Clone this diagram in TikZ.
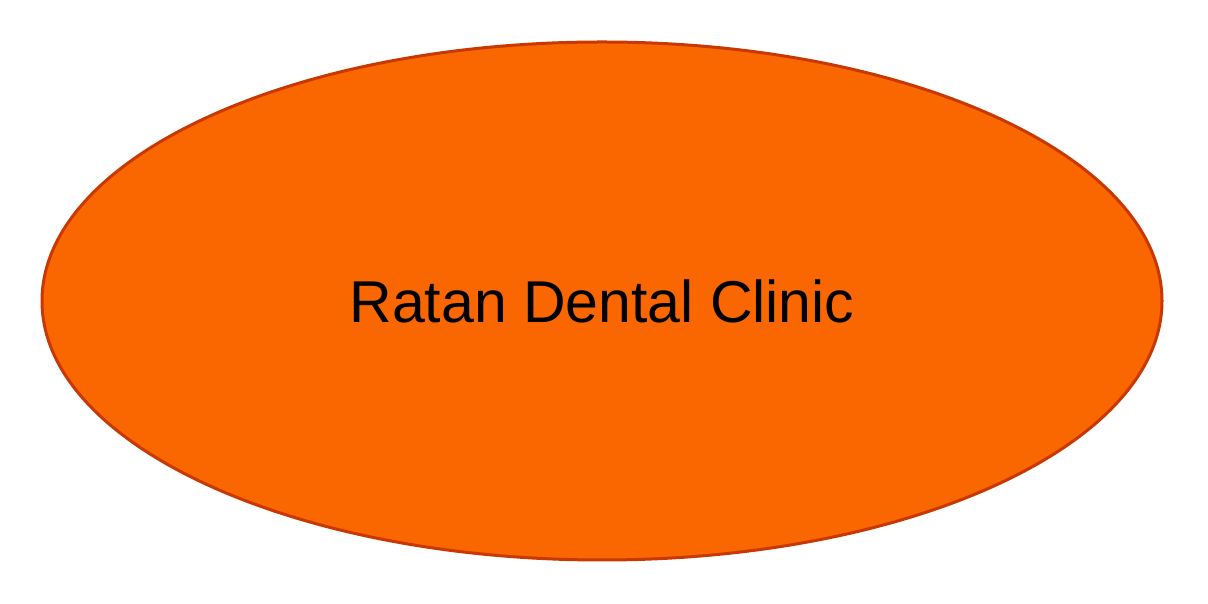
\documentclass[tikz,border=0pt]{standalone}
\usepackage{fontspec}
\setmainfont{Liberation Sans}
\usetikzlibrary{shapes.geometric}
\definecolor{fillor}{HTML}{FA6600}
\definecolor{edgeor}{HTML}{C83800}
\tikzset{clinic/.style={ellipse, draw=edgeor, line width=3pt, fill=fillor, minimum width=1120pt, minimum height=518pt, inner sep=0pt, font=\fontsize{59pt}{64pt}\selectfont}}
\begin{document}
\begin{tikzpicture}[x=1pt,y=1pt]
\useasboundingbox (0,0) rectangle (1208,604);
\node[clinic] (c) at (602,303) {Ratan Dental Clinic};
\end{tikzpicture}
\end{document}
